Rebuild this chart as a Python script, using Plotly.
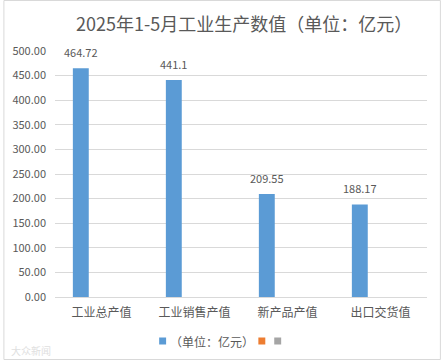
import plotly.graph_objects as go

categories = ["工业总产值", "工业销售产值", "新产品产值", "出口交货值"]
values = [464.72, 441.1, 209.55, 188.17]
value_labels = ["464.72", "441.1", "209.55", "188.17"]
tick_vals = [0, 50, 100, 150, 200, 250, 300, 350, 400, 450, 500]
tick_text = ["%.2f" % v for v in tick_vals]
title_text = "2025年1-5月工业生产数值（单位：亿元）"
legend_name = "（单位：亿元）"

W, H = 442, 361
L, R, T, B = 52, 15, 51, 64
PW, PH = W - L - R, H - T - B

def px(x):
    return (x - L) / PW

def py(y):
    return (H - B - y) / PH

FONT = "Noto Sans CJK SC"
TXT = "#595959"
BLUE = "#5B9BD5"
ORANGE = "#ED7D31"
GRAY = "#A5A5A5"

fig = go.Figure()
fig.add_trace(go.Bar(
    x=categories, y=values, name=legend_name,
    marker=dict(color=BLUE, line=dict(width=0)),
    width=0.171, offset=-0.308, showlegend=False, hoverinfo="skip",
))

for c, v, t in zip(categories, values, value_labels):
    fig.add_annotation(x=c, y=v, text=t, showarrow=False, xshift=-21,
                       yanchor="bottom", yshift=6,
                       font=dict(family=FONT, size=11, color=TXT))

fig.add_annotation(x=px(243), y=py(23), xref="paper", yref="paper",
                   text=title_text, showarrow=False,
                   xanchor="center", yanchor="middle",
                   font=dict(family=FONT, size=18, color=TXT))

# legend (manual, Excel style)
shapes = []
for x0, col in [(157, BLUE), (257, ORANGE), (273, GRAY)]:
    shapes.append(dict(type="rect", xref="paper", yref="paper",
                       x0=px(x0), x1=px(x0 + 7), y0=py(344.5), y1=py(337.5),
                       fillcolor=col, line=dict(width=0)))
fig.add_annotation(x=px(166), y=py(341), xref="paper", yref="paper",
                   text=legend_name, showarrow=False, xanchor="left", yanchor="middle",
                   font=dict(family=FONT, size=12, color=TXT))

# watermark
fig.add_annotation(x=px(6), y=py(350), xref="paper", yref="paper",
                   text="大众新闻", showarrow=False, xanchor="left", yanchor="middle",
                   font=dict(family=FONT, size=10, color="#E0E0E0"))

# chart border
shapes.append(dict(type="rect", xref="paper", yref="paper",
                   x0=px(0.5), x1=px(440.5), y0=py(359.5), y1=py(0.5),
                   line=dict(color="#D9D9D9", width=1), fillcolor="rgba(0,0,0,0)"))

fig.update_layout(
    width=W, height=H,
    margin=dict(l=L, r=R, t=T, b=B),
    paper_bgcolor="white", plot_bgcolor="white",
    showlegend=False,
    shapes=shapes,
    font=dict(family=FONT, color=TXT),
    xaxis=dict(type="category", showgrid=False, showline=False, ticks="",
               tickfont=dict(family=FONT, size=12, color=TXT), ticklabelstandoff=7),
    yaxis=dict(range=[0, 500], tickvals=tick_vals, ticktext=tick_text,
               showgrid=True, gridcolor="#D9D9D9", gridwidth=1,
               zeroline=True, zerolinecolor="#D9D9D9", zerolinewidth=1,
               showline=False, ticks="",
               tickfont=dict(family=FONT, size=11, color=TXT), ticklabelstandoff=8),
)

fig.write_html("out.html", config={"displayModeBar": False},
               post_script="document.body.style.margin='0';document.body.style.overflow='hidden';")
